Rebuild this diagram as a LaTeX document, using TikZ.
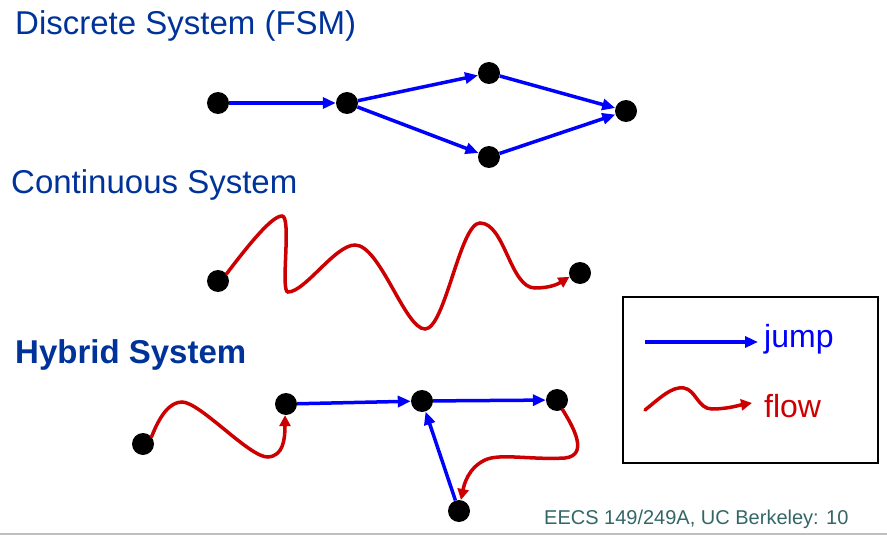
\documentclass[tikz,border=0pt]{standalone}
\usepackage{fontspec}
\setmainfont{Liberation Sans}
\usetikzlibrary{arrows.meta}
\definecolor{titleblue}{RGB}{0,51,153}
\definecolor{jumpblue}{RGB}{0,0,255}
\definecolor{flowred}{RGB}{204,0,0}
\definecolor{footteal}{RGB}{51,102,102}
\tikzset{
  state/.style={circle,fill=black,minimum size=22pt,inner sep=0pt},
  jump/.style={draw=jumpblue,line width=3.5pt,-{Triangle[length=13pt,width=11pt]}},
  flow/.style={draw=flowred,line width=3.5pt,line cap=round,-{Triangle[length=11pt,width=11pt]}},
  title/.style={anchor=base west,inner sep=0pt,text=titleblue,font=\fontsize{33}{37}\selectfont},
}
\begin{document}
\begin{tikzpicture}[x=1pt,y=-1pt]
\useasboundingbox (0,0) rectangle (887,535);
% titles
\node[title] (t1) at (15,35) {Discrete System (FSM)};
\node[title] (t2) at (11,193) {Continuous System};
\node[title,font=\fontsize{33}{37}\selectfont\bfseries] (t3) at (15,363) {Hybrid System};
% discrete
\node[state] (d1) at (218,103) {};
\node[state] (d2) at (347,103) {};
\node[state] (d3) at (489,73) {};
\node[state] (d4) at (489,157) {};
\node[state] (d5) at (626,111) {};
\draw[jump] (d1) -- (d2);
\draw[jump] (d2) -- (d3);
\draw[jump] (d2) -- (d4);
\draw[jump] (d3) -- (d5);
\draw[jump] (d4) -- (d5);
% continuous
\node[state] (c1) at (218,281) {};
\node[state] (c2) at (580,273) {};
\draw[flow] (c1.40) .. controls (250,243) and (272,216) .. (282,216)
  .. controls (292,216) and (280,292) .. (288,292)
  .. controls (305,292) and (335,245) .. (355,245)
  .. controls (380,245) and (405,329) .. (425,329)
  .. controls (445,329) and (460,223) .. (480,223)
  .. controls (505,223) and (510,288) .. (535,288)
  .. controls (550,288) and (558,284) .. (c2.200);
% hybrid
\node[state] (h1) at (143,444) {};
\node[state] (h2) at (286,404) {};
\node[state] (h3) at (422,401) {};
\node[state] (h4) at (557,400) {};
\node[state] (h5) at (459,511) {};
\draw[flow] (h1.40) .. controls (160,415) and (170,402) .. (182,402)
  .. controls (200,402) and (250,458) .. (268,457)
  .. controls (283,456) and (285,440) .. (h2.265);
\draw[jump] (h2) -- (h3);
\draw[jump] (h3) -- (h4);
\draw[jump] (h5) -- (h3);
\draw[flow] (h4.-60) .. controls (572,425) and (590,455) .. (565,458)
  .. controls (530,460) and (500,453) .. (485,460)
  .. controls (468,468) and (464,485) .. (h5.80);
% legend
\node[draw=black,line width=1.3pt,minimum width=255pt,minimum height=166pt,inner sep=0pt] (leg) at (750.5,380) {};
\coordinate (lj1) at (645,342);
\coordinate (lj2) at (758,342);
\draw[jump] (lj1) -- (lj2);
\node[anchor=base west,inner sep=0pt,text=jumpblue,font=\fontsize{32}{36}\selectfont] (ljt) at (764,347) {jump};
\coordinate (lf1) at (645,410);
\coordinate (lf2) at (752,403);
\draw[flow] (lf1) .. controls (660,398) and (672,386) .. (684,388)
  .. controls (696,390) and (698,409) .. (712,409)
  .. controls (728,409) and (740,405) .. (lf2);
\node[anchor=base west,inner sep=0pt,text=flowred,font=\fontsize{32}{36}\selectfont] (lft) at (764,417) {flow};
% footer
\node[anchor=base west,inner sep=0pt,text=footteal,font=\fontsize{20}{24}\selectfont] (foot) at (544,524) {EECS 149/249A, UC Berkeley: 10};
\coordinate (fl1) at (0,534);
\coordinate (fl2) at (887,534);
\draw[black!25,line width=1.5pt] (fl1) -- (fl2);
\end{tikzpicture}
\end{document}
